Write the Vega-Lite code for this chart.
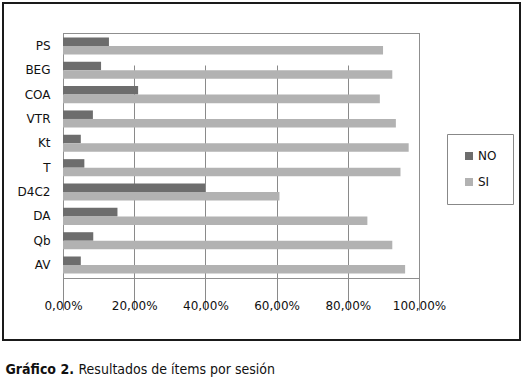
{
  "$schema": "https://vega.github.io/schema/vega-lite/v6.json",
  "width": 517,
  "height": 337,
  "autosize": {"type": "none"},
  "padding": {"left": 3, "top": 3, "right": 5, "bottom": 42},
  "background": "white",
  "data": {
    "values": [
      {"item": "PS", "resp": "NO", "pct": 0.129},
      {"item": "PS", "resp": "SI", "pct": 0.899},
      {"item": "BEG", "resp": "NO", "pct": 0.107},
      {"item": "BEG", "resp": "SI", "pct": 0.925},
      {"item": "COA", "resp": "NO", "pct": 0.211},
      {"item": "COA", "resp": "SI", "pct": 0.890},
      {"item": "VTR", "resp": "NO", "pct": 0.084},
      {"item": "VTR", "resp": "SI", "pct": 0.935},
      {"item": "Kt", "resp": "NO", "pct": 0.050},
      {"item": "Kt", "resp": "SI", "pct": 0.971},
      {"item": "T", "resp": "NO", "pct": 0.060},
      {"item": "T", "resp": "SI", "pct": 0.948},
      {"item": "D4C2", "resp": "NO", "pct": 0.399},
      {"item": "D4C2", "resp": "SI", "pct": 0.608},
      {"item": "DA", "resp": "NO", "pct": 0.153},
      {"item": "DA", "resp": "SI", "pct": 0.855},
      {"item": "Qb", "resp": "NO", "pct": 0.085},
      {"item": "Qb", "resp": "SI", "pct": 0.925},
      {"item": "AV", "resp": "NO", "pct": 0.050},
      {"item": "AV", "resp": "SI", "pct": 0.961}
    ]
  },
  "resolve": {"axis": {"x": "independent", "y": "independent"}},
  "layer": [
    {
      "mark": {"type": "bar", "opacity": 0},
      "encoding": {
        "x": {
          "field": "pct", "type": "quantitative",
          "axis": {"orient": "top", "offset": -30, "labels": false, "ticks": false, "grid": false, "domainColor": "#8f8f8f", "domainWidth": 1,
            "title": "Gráfico 2.",
            "titleX": 2, "titleY": 340, "titleAlign": "left", "titleBaseline": "alphabetic", "titleAnchor": null,
            "titleFont": "DejaVu Sans Condensed", "titleFontSize": 14, "titleFontWeight": "bold", "titleColor": "#111"}
        },
        "y": {
          "field": "item", "type": "nominal",
          "sort": ["PS", "BEG", "COA", "VTR", "Kt", "T", "D4C2", "DA", "Qb", "AV"],
          "axis": {"orient": "right", "offset": -101, "labels": false, "ticks": false, "grid": false, "title": null, "domainColor": "#8f8f8f", "domainWidth": 1}
        }
      }
    },
    {
      "mark": {"type": "bar"},
      "encoding": {
        "y": {
          "field": "item", "type": "nominal",
          "sort": ["PS", "BEG", "COA", "VTR", "Kt", "T", "D4C2", "DA", "Qb", "AV"],
          "scale": {"range": [30, 275], "paddingInner": 0.3, "paddingOuter": 0.18},
          "axis": {"orient": "left", "offset": -60, "title": null, "ticks": false, "tickSize": 0, "labelPadding": 13, "domainColor": "#8f8f8f", "domainWidth": 1, "labelFont": "DejaVu Sans", "labelFontSize": 12, "labelColor": "#111", "grid": false}
        },
        "yOffset": {
          "field": "resp", "type": "nominal",
          "sort": ["NO", "SI"],
          "scale": {"paddingInner": 0, "paddingOuter": 0}
        },
        "x": {
          "field": "pct", "type": "quantitative",
          "scale": {"domain": [0, 1], "range": [60, 416], "nice": false, "zero": true},
          "axis": {
            "orient": "bottom", "offset": -62,
            "values": [0, 0.2, 0.4, 0.6, 0.8, 1],
            "labelExpr": "replace(format(datum.value, '.2%'), '.', ',')",
            "grid": true, "gridColor": "#8a8a8a", "gridWidth": 1, "gridOpacity": 1,
            "domainColor": "#8f8f8f", "domainWidth": 1,
            "tickColor": "#8a8a8a", "tickSize": 3,
            "labelPadding": 19, "labelFont": "DejaVu Sans", "labelFontSize": 12, "labelColor": "#111",
            "labelFlush": false, "labelOverlap": false,
            "title": "Resultados de ítems por sesión",
            "titleX": 75, "titleY": 95, "titleAlign": "left", "titleBaseline": "alphabetic", "titleAnchor": null,
            "titleFont": "DejaVu Sans Condensed", "titleFontSize": 14, "titleFontWeight": "normal", "titleColor": "#111"
          }
        },
        "color": {
          "field": "resp", "type": "nominal",
          "scale": {"domain": ["NO", "SI"], "range": ["#6d6d6d", "#b2b2b2"]},
          "legend": {
            "orient": "none", "legendX": 444, "legendY": 131, "title": null,
            "padding": 16, "strokeColor": "#888", "fillColor": "white",
            "symbolType": "square", "symbolSize": 64, "symbolStrokeWidth": 0,
            "labelFont": "DejaVu Sans", "labelFontSize": 12, "labelColor": "#111", "labelOffset": 3,
            "rowPadding": 14
          }
        }
      }
    }
  ],
  "config": {
    "view": {"stroke": "#1a1a1a", "strokeWidth": 2},
    "axis": {"domainCap": "square"}
  }
}
